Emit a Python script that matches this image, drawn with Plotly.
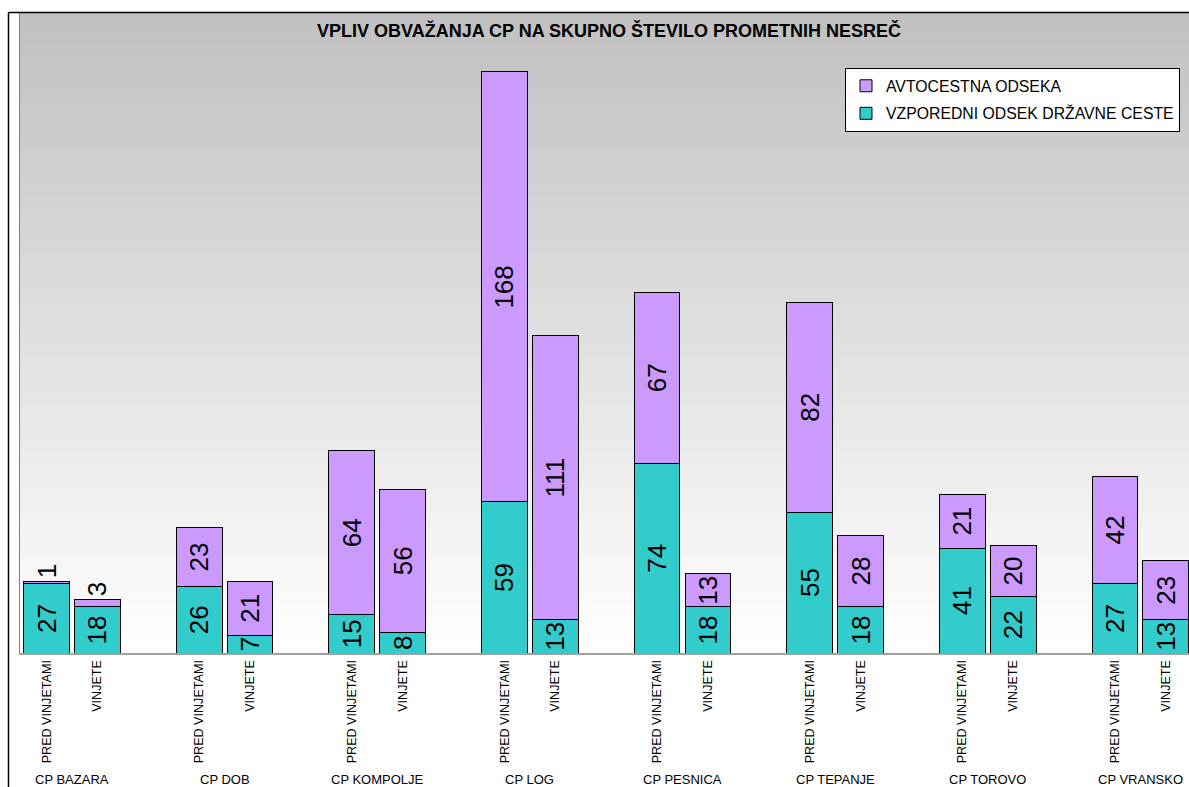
import plotly.graph_objects as go

# ---- data ----
stations = ["CP BAZARA", "CP DOB", "CP KOMPOLJE", "CP LOG", "CP PESNICA", "CP TEPANJE", "CP TOROVO", "CP VRANSKO"]
periods = ["PRED VINJETAMI", "VINJETE"]
vzporedni_pred = [27, 26, 15, 59, 74, 55, 41, 27]
vzporedni_vinjete = [18, 7, 8, 13, 18, 18, 22, 13]
avtocesta_pred = [1, 23, 64, 168, 67, 82, 21, 42]
avtocesta_vinjete = [3, 21, 56, 111, 13, 28, 20, 23]

TEAL = "#33CCCC"
PURPLE = "#CC99FF"
FONT = "Liberation Sans, Arial, sans-serif"

# ---- figure geometry (pixels) ----
W, H = 1189, 787
L, R, T, B = 20, 0, 13, 134
PW, PH = W - L - R, H - T - B

def px_x(p):
    return (p - L) / PW

def px_y(p):
    return (H - B - p) / PH

# positions: two bars per station, third slot empty
xs, ticktext, teal_vals, purple_vals = [], [], [], []
for i, st in enumerate(stations):
    for k, per in enumerate(periods):
        xs.append(i * 3 + k)
        ticktext.append(per)
    teal_vals += [vzporedni_pred[i], vzporedni_vinjete[i]]
    purple_vals += [avtocesta_pred[i], avtocesta_vinjete[i]]

purple_pos = ["outside" if v < 5 else "inside" for v in purple_vals]
LABEL_SIZE = 26

fig = go.Figure()
fig.add_trace(go.Bar(
    x=xs, y=teal_vals, name="VZPOREDNI ODSEK DRŽAVNE CESTE",
    marker=dict(color=TEAL, line=dict(color="black", width=1)),
    width=0.9, text=[str(v) for v in teal_vals], textposition="inside",
    insidetextanchor="middle", textangle=-90, constraintext="none",
    textfont=dict(size=LABEL_SIZE, color="black", family=FONT),
    legendgroup="b", legendrank=2, cliponaxis=False,
))
fig.add_trace(go.Bar(
    x=xs, y=purple_vals, name="AVTOCESTNA ODSEKA",
    marker=dict(color=PURPLE, line=dict(color="black", width=1)),
    width=0.9, text=[str(v) for v in purple_vals], textposition=purple_pos,
    insidetextanchor="middle", textangle=-90, constraintext="none",
    textfont=dict(size=LABEL_SIZE, color="black", family=FONT),
    legendgroup="a", legendrank=1, cliponaxis=False,
))

# gradient background strips
shapes = []
N = 80
for j in range(N):
    f = (j + 0.5) / N
    c = int(round(192 + 63 * f))
    shapes.append(dict(type="rect", xref="paper", yref="paper",
                       x0=0, x1=1, y0=1 - (j + 1) / N, y1=1 - j / N + 0.001,
                       fillcolor=f"rgb({c},{c},{c})", line=dict(width=0), layer="below"))
# outer chart border
shapes.append(dict(type="line", xref="paper", yref="paper",
                   x0=px_x(8.5), x1=px_x(8.5), y0=px_y(787), y1=px_y(12.5),
                   line=dict(color="black", width=1.5)))
shapes.append(dict(type="line", xref="paper", yref="paper",
                   x0=px_x(8.5), x1=px_x(1189), y0=px_y(12.5), y1=px_y(12.5),
                   line=dict(color="black", width=1.5)))

annotations = []
for i, st in enumerate(stations):
    annotations.append(dict(text=st, x=i * 3 + 0.5, xref="x", y=px_y(779), yref="paper",
                            showarrow=False, xanchor="center", yanchor="middle",
                            font=dict(size=13, color="black", family=FONT)))
annotations.append(dict(text="<b>VPLIV OBVAŽANJA CP NA SKUPNO ŠTEVILO PROMETNIH NESREČ</b>",
                        x=px_x(609), y=px_y(30), xref="paper", yref="paper",
                        showarrow=False, xanchor="center", yanchor="middle",
                        font=dict(size=18, color="black", family=FONT)))

slot = 50.88
r0 = -(46.5 - L) / slot
r1 = r0 + PW / slot

fig.update_layout(
    width=W, height=H,
    margin=dict(l=L, r=R, t=T, b=B, pad=0),
    barmode="stack",
    paper_bgcolor="white", plot_bgcolor="white",
    showlegend=True,
    legend=dict(x=px_x(845), y=px_y(68), xanchor="left", yanchor="top",
                bgcolor="white", bordercolor="black", borderwidth=1,
                traceorder="grouped", tracegroupgap=4, itemwidth=30,
                font=dict(size=15.8, color="black", family=FONT)),
    xaxis=dict(range=[r0, r1], tickmode="array", tickvals=xs, ticktext=ticktext,
               tickangle=-90, tickfont=dict(size=12.6, color="black", family=FONT),
               showgrid=False, zeroline=False, showline=True, linecolor="#a0a0a0",
               linewidth=2, ticks=""),
    yaxis=dict(range=[0, 250], showticklabels=False, showgrid=False, zeroline=False,
               showline=True, linecolor="#808080", linewidth=1, ticks=""),
    shapes=shapes, annotations=annotations,
    font=dict(family=FONT),
)

fig.write_html("out.html")
